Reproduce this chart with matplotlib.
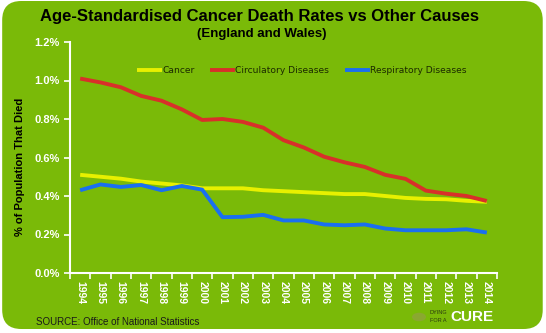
import numpy as np
import matplotlib.pyplot as plt
from matplotlib.patches import FancyBboxPatch, Circle
from matplotlib.ticker import FuncFormatter

years = [str(y) for y in range(1994, 2015)]
cancer = [0.51, 0.50, 0.49, 0.475, 0.465, 0.455, 0.44, 0.44, 0.44, 0.43, 0.425,
          0.42, 0.415, 0.41, 0.41, 0.40, 0.39, 0.385, 0.383, 0.375, 0.37]
circulatory = [1.01, 0.99, 0.965, 0.92, 0.895, 0.85, 0.795, 0.80, 0.785, 0.755, 0.69,
               0.652, 0.604, 0.575, 0.551, 0.51, 0.489, 0.428, 0.412, 0.40, 0.374]
respiratory = [0.43, 0.46, 0.447, 0.457, 0.43, 0.452, 0.433, 0.29, 0.292, 0.302, 0.273,
               0.273, 0.252, 0.248, 0.252, 0.231, 0.222, 0.222, 0.222, 0.227, 0.21]
yticks = [0.0, 0.2, 0.4, 0.6, 0.8, 1.0, 1.2]

green = '#7aba08'
W, H = 546, 333
fig = plt.figure(figsize=(W / 100, H / 100), dpi=100)
fig.patch.set_facecolor('white')

# rounded green panel, drawn behind the axes
bg = FancyBboxPatch((0.004, 0.012), 0.99, 0.985, boxstyle='round,pad=0,rounding_size=0.035',
                    transform=fig.transFigure, facecolor=green, edgecolor='none',
                    mutation_aspect=W / H, zorder=-10)
fig.patches.append(bg)

ax = fig.add_axes([70 / W, 1 - 273 / H, 427 / W, 231 / H])
ax.set_facecolor('none')
x = np.arange(len(years))
ax.plot(x, cancer, color='#e8f000', lw=2.8, label='Cancer', solid_capstyle='butt')
ax.plot(x, circulatory, color='#d8302a', lw=2.8, label='Circulatory Diseases', solid_capstyle='butt')
ax.plot(x, respiratory, color='#1a6ff0', lw=2.8, label='Respiratory Diseases', solid_capstyle='butt')

ax.set_xlim(-0.5, len(years) - 0.5)
ax.set_ylim(0, 1.2)
ax.set_yticks(yticks)
ax.yaxis.set_major_formatter(FuncFormatter(lambda v, p: f'{v:.1f}%'))
ax.set_xticks(np.arange(-0.5, len(years), 1.0))
ax.set_xticklabels([])
ax.set_xticks(x, minor=True)
ax.set_xticklabels(years, minor=True, rotation=-90, fontsize=7.5, color='white',
                   fontweight='bold', family='Liberation Sans')
ax.tick_params(axis='x', which='minor', length=0, pad=6)
ax.tick_params(axis='x', which='major', length=4, color='white', width=1.2, direction='out')
ax.tick_params(axis='y', length=4, color='white', width=1.2, labelsize=8, labelcolor='white')
for lab in ax.get_yticklabels():
    lab.set_fontweight('bold')
    lab.set_family('Liberation Sans')
for s in ['top', 'right']:
    ax.spines[s].set_visible(False)
for s in ['left', 'bottom']:
    ax.spines[s].set_color('white')
    ax.spines[s].set_linewidth(1.5)
ax.set_ylabel('% of Population That Died', fontsize=8, fontweight='bold',
              family='Liberation Sans')
ax.yaxis.set_label_coords(-45 / 427, 0.46)

leg = ax.legend(loc='upper center', bbox_to_anchor=(0.543, 0.93), ncol=3, frameon=False,
                handlelength=2.7, handletextpad=0.05, columnspacing=1.7,
                prop={'family': 'DejaVu Sans Condensed', 'size': 6.6})
for t in leg.get_texts():
    t.set_color('#1b2a00')

fig.text(259 / W, 1 - 16 / H, 'Age-Standardised Cancer Death Rates vs Other Causes',
         ha='center', va='center', fontsize=12, fontweight='bold', family='Liberation Sans')
fig.text(262 / W, 1 - 34 / H, '(England and Wales)', ha='center', va='center',
         fontsize=9.5, fontweight='bold', family='Liberation Sans')
fig.text(36 / W, 1 - 322 / H, 'SOURCE: Office of National Statistics', ha='left', va='center',
         fontsize=7, family='Liberation Sans', color='#1a1a1a')

# logo
fig.patches.append(Circle((419 / W, 1 - 317 / H), 7 / W, transform=fig.transFigure,
                          facecolor='#8aa830', edgecolor='none', zorder=-5))
fig.text(430 / W, 1 - 312 / H, 'DYING', fontsize=4, color='#2a3a10', va='center',
         family='Liberation Sans')
fig.text(430 / W, 1 - 320 / H, 'FOR A', fontsize=4, color='#2a3a10', va='center',
         family='Liberation Sans')
fig.text(450 / W, 1 - 317 / H, 'CURE', fontsize=11, color='white', va='center',
         fontweight='bold', family='Liberation Sans')

fig.savefig('out.png', dpi=100, facecolor=fig.get_facecolor())
